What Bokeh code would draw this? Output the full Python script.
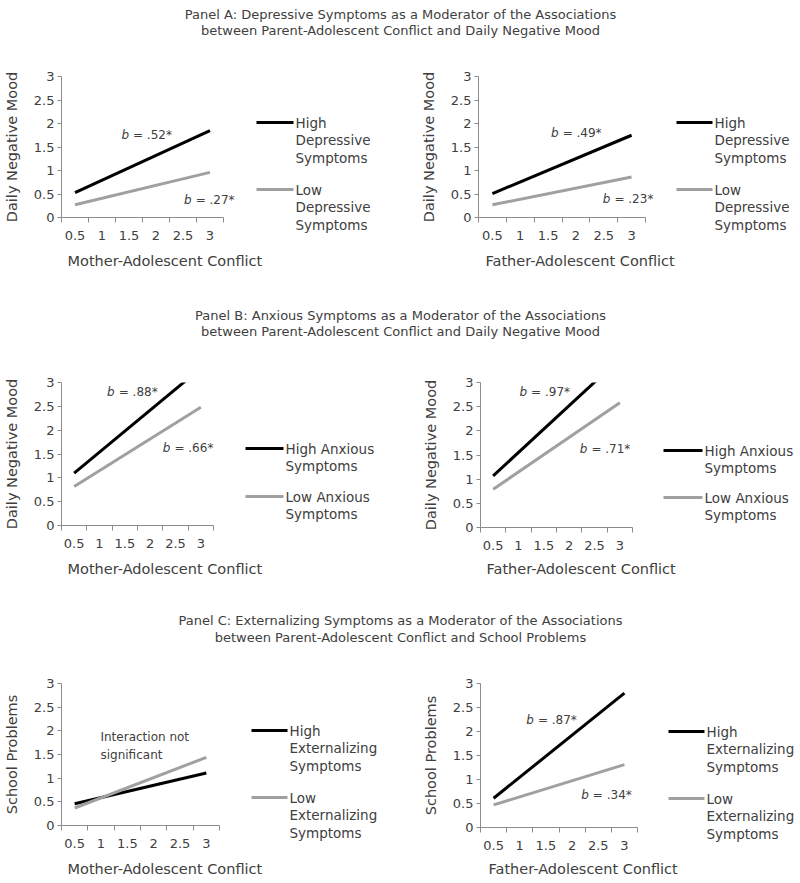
from bokeh.plotting import figure
from bokeh.layouts import column, row
from bokeh.models import Range1d, FixedTicker, Label
from bokeh.core.properties import value
from bokeh.embed import file_html
from bokeh.resources import INLINE

FONT = "DejaVu Sans"
TXT = "#404040"
AXC = "#8c8c8c"
HIGH_C = "#000000"
LOW_C = "#a0a0a0"

# ---------------- data ----------------
conflict = [0.5, 3.0]                      # x positions of the plotted lines
x_cats = [0.5, 1.0, 1.5, 2.0, 2.5, 3.0]
x_cat_labels = ["0.5", "1", "1.5", "2", "2.5", "3"]
x_bounds = [0.25, 0.75, 1.25, 1.75, 2.25, 2.75, 3.25]
y_ticks = [0, 0.5, 1.0, 1.5, 2.0, 2.5, 3.0]
y_tick_labels = ["0", "0.5", "1", "1.5", "2", "2.5", "3"]

title_a = ["Panel A: Depressive Symptoms as a Moderator of the Associations",
           "between Parent-Adolescent Conflict and Daily Negative Mood"]
title_b = ["Panel B: Anxious Symptoms as a Moderator of the Associations",
           "between Parent-Adolescent Conflict and Daily Negative Mood"]
title_c = ["Panel C: Externalizing Symptoms as a Moderator of the Associations",
           "between Parent-Adolescent Conflict and School Problems"]

a_mother_high = [0.53, 1.85]
a_mother_low = [0.27, 0.96]
a_father_high = [0.51, 1.75]
a_father_low = [0.27, 0.86]
b_mother_high = [1.10, 3.30]
b_mother_low = [0.82, 2.48]
b_father_high = [1.07, 3.49]
b_father_low = [0.79, 2.58]
c_mother_high = [0.46, 1.11]
c_mother_low = [0.37, 1.44]
c_father_high = [0.61, 2.80]
c_father_low = [0.47, 1.31]

leg_dep_high = ["High", "Depressive", "Symptoms"]
leg_dep_low = ["Low", "Depressive", "Symptoms"]
leg_anx_high = ["High Anxious", "Symptoms"]
leg_anx_low = ["Low Anxious", "Symptoms"]
leg_ext_high = ["High", "Externalizing", "Symptoms"]
leg_ext_low = ["Low", "Externalizing", "Symptoms"]

mood_label = "Daily Negative Mood"
school_label = "School Problems"
x_titles = ["Mother-Adolescent Conflict", "Father-Adolescent Conflict"]

# slope notes: (x, y, italic part, rest)
notes_a_mother = [(1.50, 1.75, "b", "= .52*"), (2.66, 0.38, "b", "= .27*")]
notes_a_father = [(1.69, 1.79, "b", "= .49*"), (2.62, 0.39, "b", "= .23*")]
notes_b_mother = [(1.30, 2.81, "b", "= .88*"), (2.40, 1.63, "b", "= .66*")]
notes_b_father = [(1.17, 2.81, "b", "= .97*"), (2.36, 1.63, "b", "= .71*")]
notes_c_father = [(1.27, 2.23, "b", "= .87*"), (2.32, 0.68, "b", "= .34*")]
plain_c_mother = [(0.99, 1.86, "Interaction not"), (0.99, 1.48, "significant")]

LEG_STEP = 17.6
FS_TICK = "13px"
FS_AXIS = "14.5px"
FS_LEG = "13.5px"
FS_NOTE = "12px"
FS_TITLE = "13px"


def text_strip(top, h, xs, ys, texts, align, size):
    f = figure(width=800, height=h, x_range=Range1d(0, 800), y_range=Range1d(top + h, top),
               x_axis_type=None, y_axis_type=None, output_backend="svg", toolbar_location=None,
               min_border=0, outline_line_color=None, frame_align=False)
    f.xgrid.visible = False
    f.ygrid.visible = False
    f.text(x=xs, y=ys, text=texts, text_align=align, text_baseline="middle",
           text_font=value(FONT), text_font_size=size, text_color=TXT)
    return f


def half(page_left, row_top, row_h, frame_left, frame_w, frame_top, frame_h,
         leg_x0, leg_x1, leg_y_hi, leg_y_lo, hi_y, lo_y, hi_lbl, lo_lbl, ylab,
         notes=(), plain=()):
    plot_right = leg_x0 - 8
    pw = plot_right - page_left
    bl = frame_left - page_left
    bt = frame_top - row_top
    ext_w = pw - bl - 2                     # frame widened so notes are not clipped
    x_lo, x_hi = x_bounds[0], x_bounds[-1]
    x_end = x_lo + (x_hi - x_lo) * ext_w / frame_w
    p = figure(width=pw, height=row_h,
               x_range=Range1d(x_lo, x_end),
               y_range=Range1d(y_ticks[0], y_ticks[-1]),
               min_border_left=bl, min_border_right=2,
               min_border_top=bt, min_border_bottom=row_h - bt - frame_h,
               output_backend="svg", toolbar_location=None, outline_line_color=None,
               frame_align=False)
    p.xgrid.visible = False
    p.ygrid.visible = False

    p.line(conflict, hi_y, line_color=HIGH_C, line_width=3)
    p.line(conflict, lo_y, line_color=LOW_C, line_width=3)

    xa = p.xaxis[0]
    xa.bounds = (x_lo, x_hi)
    xa.ticker = FixedTicker(ticks=x_cats, minor_ticks=x_bounds)
    xa.major_label_overrides = {t: l for t, l in zip(x_cats, x_cat_labels)}
    xa.major_tick_out = 0
    xa.major_tick_in = 0
    xa.minor_tick_out = 5
    xa.minor_tick_in = 0
    xa.minor_tick_line_color = AXC
    xa.axis_line_color = AXC
    xa.major_label_standoff = 8

    ya = p.yaxis[0]
    ya.ticker = FixedTicker(ticks=y_ticks)
    ya.major_label_overrides = {t: l for t, l in zip(y_ticks, y_tick_labels)}
    ya.major_tick_out = 4
    ya.major_tick_in = 0
    ya.major_tick_line_color = AXC
    ya.minor_tick_line_color = None
    ya.axis_line_color = AXC
    ya.major_label_standoff = 3
    ya.axis_label = ylab
    ya.axis_label_standoff = 11
    ya.axis_label_text_font = FONT
    ya.axis_label_text_font_size = FS_AXIS
    ya.axis_label_text_font_style = "normal"
    ya.axis_label_text_color = TXT

    for ax in (xa, ya):
        ax.major_label_text_font = FONT
        ax.major_label_text_font_size = FS_TICK
        ax.major_label_text_color = TXT

    for (x, y, it, rest) in notes:
        p.add_layout(Label(x=x, y=y, text=it, text_align="right", text_baseline="middle",
                           text_font=FONT, text_font_size=FS_NOTE, text_font_style="italic",
                           text_color=TXT))
        p.add_layout(Label(x=x, y=y, text=rest, text_align="left", text_baseline="middle",
                           x_offset=4, text_font=FONT, text_font_size=FS_NOTE, text_color=TXT))
    for (x, y, t) in plain:
        p.add_layout(Label(x=x, y=y, text=t, text_align="left", text_baseline="middle",
                           text_font=FONT, text_font_size=FS_NOTE, text_color=TXT))

    # legend canvas
    lw = page_left + 400 - plot_right
    lg = figure(width=lw, height=row_h, x_range=Range1d(plot_right, plot_right + lw),
                y_range=Range1d(row_top + row_h, row_top), x_axis_type=None, y_axis_type=None,
                output_backend="svg", toolbar_location=None, min_border=0, outline_line_color=None,
                frame_align=False)
    lg.xgrid.visible = False
    lg.ygrid.visible = False
    for yy, col, lbl in ((leg_y_hi, HIGH_C, hi_lbl), (leg_y_lo, LOW_C, lo_lbl)):
        lg.segment(x0=[leg_x0], y0=[yy], x1=[leg_x1], y1=[yy], line_color=col, line_width=3)
        lg.text(x=[leg_x1 + 2] * len(lbl), y=[yy + i * LEG_STEP for i in range(len(lbl))], text=lbl,
                text_align="left", text_baseline="middle", text_font=value(FONT), text_font_size=FS_LEG,
                text_color=TXT)
    return [p, lg]


# ---------- Panel A ----------
tA = text_strip(0, 50, [400, 400], [14, 30], title_a, "center", FS_TITLE)
rA = row(*half(0, 50, 200, 61, 162, 76, 141, 256, 293, 122, 189,
               a_mother_high, a_mother_low, leg_dep_high, leg_dep_low, mood_label,
               notes=notes_a_mother),
         *half(400, 50, 200, 478, 167, 76, 141, 676, 712, 122, 189,
               a_father_high, a_father_low, leg_dep_high, leg_dep_low, mood_label,
               notes=notes_a_father))
sA = text_strip(250, 40, [67, 485], [260, 260], x_titles, "left", FS_AXIS)
# ---------- Panel B ----------
tB = text_strip(290, 65, [400, 400], [315, 331], title_b, "center", FS_TITLE)
rB = row(*half(0, 355, 203, 61, 152, 382, 143, 245, 283, 448, 496,
               b_mother_high, b_mother_low, leg_anx_high, leg_anx_low, mood_label,
               notes=notes_b_mother),
         *half(400, 355, 203, 480, 152, 382, 145, 663, 702, 450, 497,
               b_father_high, b_father_low, leg_anx_high, leg_anx_low, mood_label,
               notes=notes_b_father))
sB = text_strip(558, 39, [67, 486], [568, 568], x_titles, "left", FS_AXIS)
# ---------- Panel C ----------
tC = text_strip(597, 58, [400, 400], [620, 637], title_c, "center", FS_TITLE)
rC = row(*half(0, 655, 203, 61, 158, 683, 142, 251, 287, 730, 797,
               c_mother_high, c_mother_low, leg_ext_high, leg_ext_low, school_label,
               plain=plain_c_mother),
         *half(400, 655, 203, 480, 157, 683, 144, 668, 704, 731, 798,
               c_father_high, c_father_low, leg_ext_high, leg_ext_low, school_label,
               notes=notes_c_father))
sC = text_strip(858, 22, [67, 488], [868, 868], x_titles, "left", FS_AXIS)

page = column(tA, rA, sA, tB, rB, sB, tC, rC, sC)
open("out.html", "w").write(file_html(page, INLINE))
